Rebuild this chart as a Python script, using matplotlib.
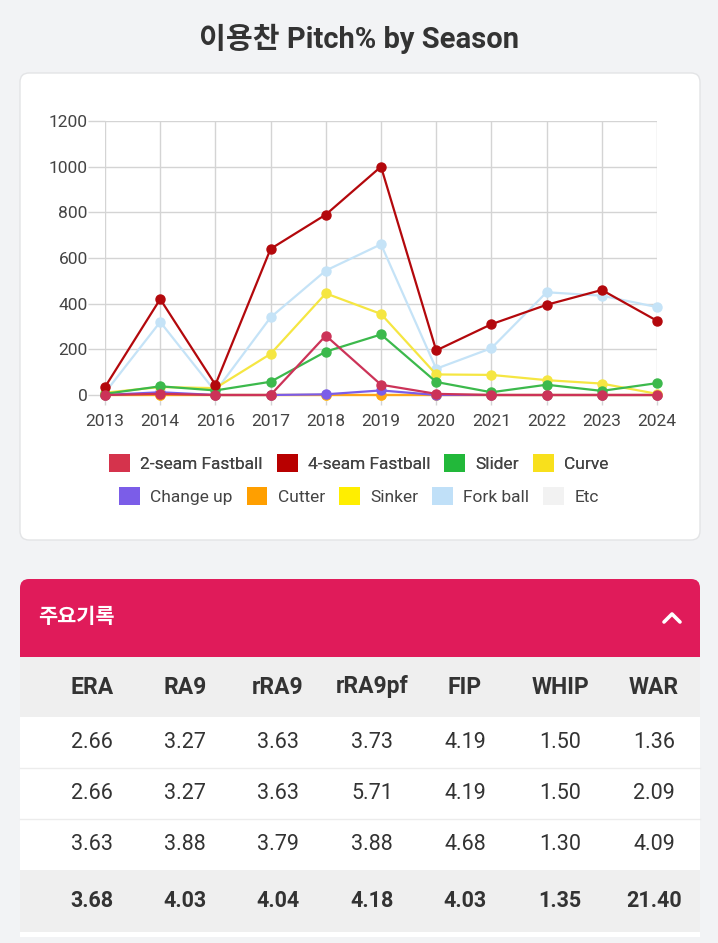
import matplotlib
matplotlib.use("Agg")
import matplotlib.pyplot as plt
import matplotlib.patches as mpatches
from matplotlib.lines import Line2D

plt.rcParams['font.family'] = ['Roboto', 'Noto Sans CJK KR', 'DejaVu Sans']

# data
seasons = ["2013", "2014", "2016", "2017", "2018", "2019", "2020", "2021", "2022", "2023", "2024"]
pitch_names = ["2-seam Fastball", "4-seam Fastball", "Slider", "Curve",
               "Change up", "Cutter", "Sinker", "Fork ball", "Etc"]
two_seam = [0, 5, 0, 0, 260, 45, 5, 0, 0, 0, 0]
four_seam = [35, 420, 45, 640, 790, 1000, 195, 310, 395, 460, 325]
slider = [5, 38, 20, 58, 190, 265, 57, 12, 45, 18, 52]
curve = [10, 35, 30, 180, 445, 355, 90, 88, 65, 50, 5]
change_up = [0, 12, 0, 0, 3, 20, 0, 0, 0, 0, 0]
cutter = [0, 0, 0, 0, 0, 0, 0, 0, 0, 0, 0]
sinker = [0, 0, 0, 0, 0, 0, 0, 0, 0, 0, 0]
fork_ball = [10, 320, 15, 340, 545, 660, 115, 205, 450, 435, 385]
etc = [0, 0, 0, 0, 0, 0, 0, 0, 0, 0, 0]
series = [two_seam, four_seam, slider, curve, change_up, cutter, sinker, fork_ball, etc]
legend_colors = ["#d5334c", "#b80000", "#22b83a", "#f8e01c",
                 "#7b5de8", "#ff9f00", "#ffee00", "#c0e0f8", "#f2f2f2"]
line_colors = ["#cc3358", "#b3080c", "#3cb94c", "#f5e642",
               "#7b5de8", "#ffa51a", "#fff033", "#c5e3f7", "#eeeeee"]

table_cols = ["ERA", "RA9", "rRA9", "rRA9pf", "FIP", "WHIP", "WAR"]
table_rows = [
    ["2.66", "3.27", "3.63", "3.73", "4.19", "1.50", "1.36"],
    ["2.66", "3.27", "3.63", "5.71", "4.19", "1.50", "2.09"],
    ["3.63", "3.88", "3.79", "3.88", "4.68", "1.30", "4.09"],
]
table_total = ["3.68", "4.03", "4.04", "4.18", "4.03", "1.35", "21.40"]

W, H = 718, 943
fig = plt.figure(figsize=(W / 100, H / 100), dpi=100, facecolor="#f2f3f5")

# background layer in pixel coordinates
bg = fig.add_axes([0, 0, 1, 1], zorder=-1)
bg.set_xlim(0, W)
bg.set_ylim(H, 0)
bg.axis("off")

bg.text(W / 2, 39, "이용찬 Pitch% by Season", ha="center", va="center",
        fontsize=21, fontweight="bold", color="#333333")

card = mpatches.FancyBboxPatch((20, 73), 680, 467, boxstyle="round,pad=0,rounding_size=9",
                               facecolor="white", edgecolor="#e3e4e6", lw=1)
bg.add_patch(card)

# table header bar
pink = "#e01b5a"
bg.add_patch(mpatches.FancyBboxPatch((20, 579), 680, 70, boxstyle="round,pad=0,rounding_size=9",
                                     facecolor=pink, edgecolor="none"))
bg.add_patch(mpatches.Rectangle((20, 630), 680, 27, facecolor=pink, edgecolor="none"))
bg.text(38, 617, "주요기록", ha="left", va="center", fontsize=15, fontweight="bold", color="white")
bg.add_line(Line2D([664, 672, 680], [622, 614, 622], color="white", lw=2.6,
                   solid_capstyle="round", solid_joinstyle="round"))

col_x = [92, 185, 278, 372, 465, 560, 654]
bg.add_patch(mpatches.Rectangle((20, 657), 680, 60, facecolor="#efefef", edgecolor="none"))
for x, c in zip(col_x, table_cols):
    bg.text(x, 687, c, ha="center", va="center", fontsize=16.5, fontweight="bold", color="#333333")

row_top = 717
row_h = 51
for i, row in enumerate(table_rows):
    y0 = row_top + i * row_h
    bg.add_patch(mpatches.Rectangle((20, y0), 680, row_h, facecolor="white",
                                    edgecolor="none"))
    if i > 0:
        bg.plot([20, 700], [y0, y0], color="#ececec", lw=1)
    for x, v in zip(col_x, row):
        bg.text(x, y0 + row_h / 2, v, ha="center", va="center", fontsize=15.5, color="#333333")

y0 = row_top + 3 * row_h
bg.add_patch(mpatches.Rectangle((20, y0), 680, 62, facecolor="#efefef", edgecolor="none"))
for x, v in zip(col_x, table_total):
    bg.text(x, y0 + 31, v, ha="center", va="center", fontsize=15.5, fontweight="bold", color="#333333")
bg.add_patch(mpatches.Rectangle((20, y0 + 62), 680, 5, facecolor="white", edgecolor="none"))

# chart
ax = fig.add_axes([105 / W, 1 - 395 / H, 552 / W, 274 / H])
ax.set_facecolor("none")
xs = list(range(len(seasons)))
for k in reversed(range(len(series))):
    ax.plot(xs, series[k], color=line_colors[k], lw=1.6, marker="o", markersize=6.5,
            clip_on=False, zorder=3 + (len(series) - k) * 0.1)

ax.set_xlim(0, len(seasons) - 1)
ax.set_ylim(0, 1200)
ax.set_yticks([0, 200, 400, 600, 800, 1000, 1200])
ax.set_xticks(xs)
ax.set_xticklabels(seasons)
ax.grid(True, color="#d4d4d4", lw=1, zorder=0)
for s in ax.spines.values():
    s.set_visible(False)
ax.tick_params(axis="y", length=12, color="#d4d4d4", width=1, pad=0.5, labelsize=12.5, labelcolor="#444444")
ax.tick_params(axis="x", length=7, color="#d4d4d4", width=1, pad=7, labelsize=12.5, labelcolor="#444444")

handles = [mpatches.Patch(facecolor=c, edgecolor="none") for c in legend_colors]
leg1 = fig.legend(handles[:4], pitch_names[:4], loc="center", bbox_to_anchor=(359 / W, 1 - 463 / H),
                  ncol=4, frameon=False, fontsize=12.5, handlelength=1.2, handleheight=1.2,
                  handletextpad=0.6, columnspacing=0.8, labelcolor="#444444")
leg2 = fig.legend(handles[4:], pitch_names[4:], loc="center", bbox_to_anchor=(359 / W, 1 - 496 / H),
                  ncol=5, frameon=False, fontsize=12.5, handlelength=1.2, handleheight=1.2,
                  handletextpad=0.6, columnspacing=0.8, labelcolor="#444444")
fig.add_artist(leg1)

fig.savefig("out.png", dpi=100, facecolor=fig.get_facecolor())
